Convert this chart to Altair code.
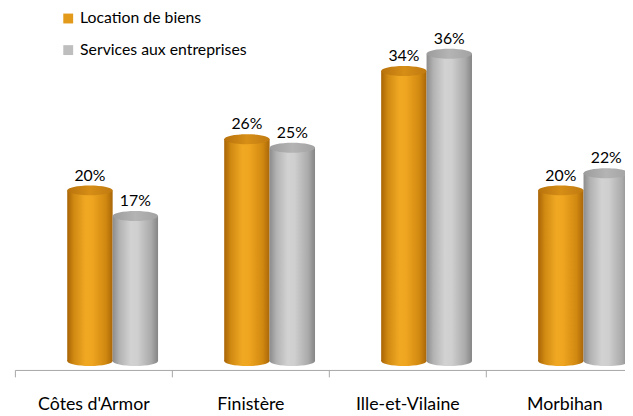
import altair as alt
import pandas as pd

regions = ["Côtes d'Armor", "Finistère", "Ille-et-Vilaine", "Morbihan"]
series = ["Location de biens", "Services aux entreprises"]
location = [20, 26, 34, 20]
services = [17, 25, 36, 22]

rows = []
for i, r in enumerate(regions):
    rows.append({"region": r, "series": series[0], "value": location[i], "label": f"{location[i]}%"})
    rows.append({"region": r, "series": series[1], "value": services[i], "label": f"{services[i]}%"})
df = pd.DataFrame(rows)

FONT = "Lato"
YDOM = [0, 40.6]

x_enc = alt.X("region:N", sort=regions, title=None,
              scale=alt.Scale(range=[0, 636], paddingInner=0, paddingOuter=0),
              axis=alt.Axis(labelAngle=0, labelFontSize=18, labelFont=FONT, labelColor="#000000",
                            domainColor="#A6A6A6", tickColor="#A6A6A6", tickSize=7,
                            tickBand="extent", offset=9, labelPadding=19))
xo_enc = alt.XOffset("series:N", sort=series,
                     scale=alt.Scale(domain=series, range=[53, 145], paddingInner=0, paddingOuter=0))
y_enc = alt.Y("value:Q", scale=alt.Scale(domain=YDOM), axis=None)

def grad(stops):
    return alt.Gradient(gradient="linear", x1=0, x2=1, y1=0, y2=0,
                        stops=[alt.GradientStop(offset=o, color=c) for o, c in stops])

orange_body = grad([(0, "#A86406"), (0.15, "#D18A12"), (0.4, "#F0A823"), (0.55, "#EFA520"),
                    (0.85, "#D08810"), (1, "#A96608")])
gray_body = grad([(0, "#8C8C8C"), (0.15, "#B2B2B2"), (0.4, "#D2D2D2"), (0.55, "#CFCFCF"),
                  (0.85, "#AAAAAA"), (1, "#858585")])
orange_top = grad([(0, "#B8720C"), (0.5, "#D68E16"), (1, "#C07A10")])
gray_top = grad([(0, "#9C9C9C"), (0.5, "#B4B4B4"), (1, "#A2A2A2")])

ellipse = "M -1 0 A 1 0.22 0 1 1 1 0 A 1 0.22 0 1 1 -1 0 Z"
SZ = 46 * 46

base = alt.Chart(df)

layers = []
for s, body, top in [(series[0], orange_body, orange_top), (series[1], gray_body, gray_top)]:
    sub = base.transform_filter(alt.datum.series == s)
    bottom = sub.mark_point(shape=ellipse, size=SZ, filled=True, fill=body, opacity=1, strokeWidth=0).encode(
        x=x_enc, xOffset=xo_enc, y=alt.Y("zero:Q", scale=alt.Scale(domain=YDOM), axis=None)
    ).transform_calculate(zero="0")
    bar = sub.mark_bar(fill=body, width={"band": 1}).encode(x=x_enc, xOffset=xo_enc, y=y_enc)
    cap = sub.mark_point(shape=ellipse, size=SZ, filled=True, fill=top, opacity=1, strokeWidth=0).encode(
        x=x_enc, xOffset=xo_enc, y=y_enc)
    layers += [bottom, bar, cap]

labels = base.mark_text(dy=-15, fontSize=16, font=FONT, color="#000000").encode(
    x=x_enc, xOffset=xo_enc, y=y_enc, text="label:N")

legend_layer = base.mark_square(opacity=0, size=100).encode(
    color=alt.Color("series:N", sort=series,
                    scale=alt.Scale(domain=series, range=["#E39A1A", "#BEBEBE"]),
                    legend=alt.Legend(title=None, orient="none", legendX=46, legendY=-4,
                                      symbolType="square", symbolSize=100, symbolOpacity=1,
                                      symbolStrokeWidth=0, labelFontSize=16, labelFont=FONT,
                                      labelColor="#000000", rowPadding=16, labelOffset=4,
                                      labelLimit=400)),
    x=x_enc, xOffset=xo_enc, y=y_enc)

chart = alt.layer(*layers, labels, legend_layer).properties(
    width=618, height=351,
    autosize=alt.AutoSizeParams(type="none"),
    padding={"left": 7, "top": 4, "right": 0, "bottom": 53},
).configure_view(stroke=None)

chart.save("out.html", embed_options={"renderer": "svg", "actions": False})
